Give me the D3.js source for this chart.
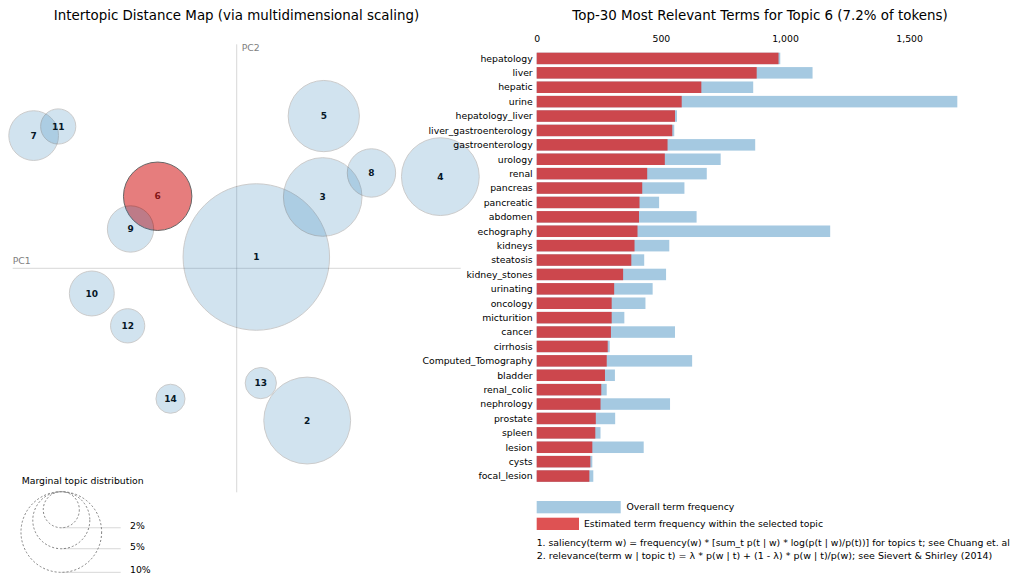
<!DOCTYPE html>
<html>
<head>
<meta charset="utf-8">
<script src="https://cdn.jsdelivr.net/npm/d3@7"></script>
<style>
  html, body { margin: 0; padding: 0; background: #fff; }
  svg text { font-family: "DejaVu Sans", sans-serif; }
</style>
</head>
<body>
<svg id="chart" width="1013" height="576"></svg>
<script>
// ---- Data ----
const topics = [1, 2, 3, 4, 5, 6, 7, 8, 9, 10, 11, 12, 13, 14];
const topicPC1 = [0.0219, 0.0787, 0.0960, 0.2273, 0.0972, -0.0882, -0.2266, 0.1504, -0.1185, -0.1617, -0.1992, -0.1217, 0.0269, -0.0739];
const topicPC2 = [0.0126, -0.1699, 0.0796, 0.1023, 0.1699, 0.0804, 0.1481, 0.1064, 0.0439, -0.0281, 0.1583, -0.0642, -0.1281, -0.1456];
const topicFreq = [33.0, 11.6, 9.5, 9.3, 7.8, 7.2, 3.8, 3.6, 3.3, 3.1, 1.9, 1.8, 1.5, 1.3];
const selectedTopic = 6;

const terms = ["hepatology", "liver", "hepatic", "urine", "hepatology_liver", "liver_gastroenterology",
  "gastroenterology", "urology", "renal", "pancreas", "pancreatic", "abdomen", "echography", "kidneys",
  "steatosis", "kidney_stones", "urinating", "oncology", "micturition", "cancer", "cirrhosis",
  "Computed_Tomography", "bladder", "renal_colic", "nephrology", "prostate", "spleen", "lesion",
  "cysts", "focal_lesion"];
const termTotal = [981, 1111, 872, 1694, 565, 554, 880, 741, 685, 595, 493, 644, 1182, 534, 433, 521,
  467, 438, 353, 557, 294, 626, 315, 282, 537, 316, 257, 431, 224, 228];
const termTopic = [974, 886, 663, 584, 557, 546, 527, 516, 445, 425, 414, 412, 406, 394, 381, 348,
  312, 302, 302, 299, 286, 282, 275, 260, 257, 238, 236, 224, 216, 212];
const xTicks = [0, 500, 1000, 1500];
const legendSizes = [2, 5, 10];

// ---- Style ----
const color1 = "#1f77b4", color2 = "#d62728";
const fs = "9.3px";
const svg = d3.select("#chart");

// ---- Left panel: MDS ----
const mdsX = d3.scaleLinear().domain([-0.25, 0.25]).range([12.7, 460.7]);
const mdsY = d3.scaleLinear().domain([-0.25, 0.25]).range([492.3, 44.3]);
const rScale = d3.scaleSqrt().domain([0, 100]).range([0, 127.5]);

svg.append("text").attr("x", 236.5).attr("y", 19.5).attr("text-anchor", "middle")
  .style("font-size", "13.4px").attr("fill", "#000")
  .text("Intertopic Distance Map (via multidimensional scaling)");

const left = svg.append("g");
left.append("line").attr("x1", mdsX(-0.25)).attr("x2", mdsX(0.25))
  .attr("y1", mdsY(0)).attr("y2", mdsY(0)).attr("stroke", "gray").attr("opacity", 0.3);
left.append("line").attr("x1", mdsX(0)).attr("x2", mdsX(0))
  .attr("y1", mdsY(0.25)).attr("y2", mdsY(-0.25)).attr("stroke", "gray").attr("opacity", 0.3);
left.append("text").attr("x", mdsX(-0.25)).attr("y", mdsY(0) - 4).style("font-size", fs)
  .attr("fill", "gray").text("PC1");
left.append("text").attr("x", mdsX(0) + 5).attr("y", mdsY(0.25) + 7).style("font-size", fs)
  .attr("fill", "gray").text("PC2");

const topicData = topics.map((t, i) => ({ t, x: topicPC1[i], y: topicPC2[i], f: topicFreq[i] }));
const pts = left.selectAll("g.pt").data(topicData).enter().append("g").attr("class", "pt");
pts.append("text")
  .attr("x", d => mdsX(d.x)).attr("y", d => mdsY(d.y)).attr("dy", "0.35em")
  .attr("text-anchor", "middle").style("font-size", "9px").style("font-weight", "bold")
  .attr("fill", "#000").text(d => d.t);
pts.append("circle")
  .attr("cx", d => mdsX(d.x)).attr("cy", d => mdsY(d.y)).attr("r", d => rScale(d.f))
  .style("fill", d => d.t === selectedTopic ? color2 : color1)
  .style("opacity", d => d.t === selectedTopic ? 0.6 : 0.2)
  .attr("stroke", "black");

// Size legend
const legX = 61.3, legTop = 491.7;
left.append("text").attr("x", 21.7).attr("y", 484).style("font-size", fs).text("Marginal topic distribution");
const leg = left.selectAll("g.leg").data(legendSizes).enter().append("g").attr("class", "leg");
leg.append("circle").attr("cx", legX).attr("cy", d => legTop + rScale(d)).attr("r", d => rScale(d))
  .attr("fill", "none").attr("stroke", "gray").attr("stroke-dasharray", "2 2");
leg.append("line").attr("x1", legX).attr("x2", 120.7)
  .attr("y1", d => legTop + 2 * rScale(d)).attr("y2", d => legTop + 2 * rScale(d))
  .attr("stroke", "gray").attr("opacity", 0.3);
leg.append("text").attr("x", 130).attr("y", d => legTop + 2 * rScale(d) + 1)
  .style("font-size", fs).text(d => d + "%");

// ---- Right panel: bars ----
const bx = d3.scaleLinear().domain([0, d3.max(termTotal)]).range([536.7, 957.3]);
const by = d3.scaleBand().domain(terms).range([49.8, 484.7]).padding(0.2);

svg.append("text").attr("x", 760).attr("y", 19.5).attr("text-anchor", "middle")
  .style("font-size", "13.4px").attr("fill", "#000")
  .text("Top-30 Most Relevant Terms for Topic 6 (7.2% of tokens)");

const axis = svg.append("g").attr("transform", "translate(0,44.5)")
  .call(d3.axisTop(bx).tickValues(xTicks).tickFormat(d3.format(",")).tickSize(0).tickPadding(3));
axis.select(".domain").remove();
axis.selectAll("text").style("font-size", fs).style("font-family", "DejaVu Sans").attr("fill", "#000");

const barData = terms.map((t, i) => ({ t, total: termTotal[i], topic: termTopic[i] }));
svg.append("g").selectAll("rect").data(barData).enter().append("rect")
  .attr("x", bx(0)).attr("y", d => by(d.t)).attr("height", by.bandwidth())
  .attr("width", d => bx(d.total) - bx(0)).style("fill", color1).attr("opacity", 0.4);
svg.append("g").selectAll("rect").data(barData).enter().append("rect")
  .attr("x", bx(0)).attr("y", d => by(d.t)).attr("height", by.bandwidth())
  .attr("width", d => bx(d.topic) - bx(0)).style("fill", color2).attr("opacity", 0.8);
svg.append("g").selectAll("text").data(barData).enter().append("text")
  .attr("x", bx(0) - 4).attr("y", d => by(d.t) + by.bandwidth() / 2).attr("dy", "0.35em")
  .attr("text-anchor", "end").style("font-size", fs).text(d => d.t);

// Bar legend
svg.append("rect").attr("x", 536.7).attr("y", 501).attr("width", 84).attr("height", 12.3)
  .style("fill", color1).attr("opacity", 0.4);
svg.append("text").attr("x", 626.5).attr("y", 507.2).attr("dy", "0.35em").style("font-size", fs)
  .text("Overall term frequency");
svg.append("rect").attr("x", 536.7).attr("y", 517.7).attr("width", 42.3).attr("height", 12.3)
  .style("fill", color2).attr("opacity", 0.8);
svg.append("text").attr("x", 584).attr("y", 523.9).attr("dy", "0.35em").style("font-size", fs)
  .text("Estimated term frequency within the selected topic");
svg.append("text").attr("x", 536.7).attr("y", 545.5).style("font-size", "9.3px")
  .text("1. saliency(term w) = frequency(w) * [sum_t p(t | w) * log(p(t | w)/p(t))] for topics t; see Chuang et. al");
svg.append("text").attr("x", 536.7).attr("y", 558.5).style("font-size", "9.5px")
  .text("2. relevance(term w | topic t) = \u03bb * p(w | t) + (1 - \u03bb) * p(w | t)/p(w); see Sievert & Shirley (2014)");
</script>
</body>
</html>
